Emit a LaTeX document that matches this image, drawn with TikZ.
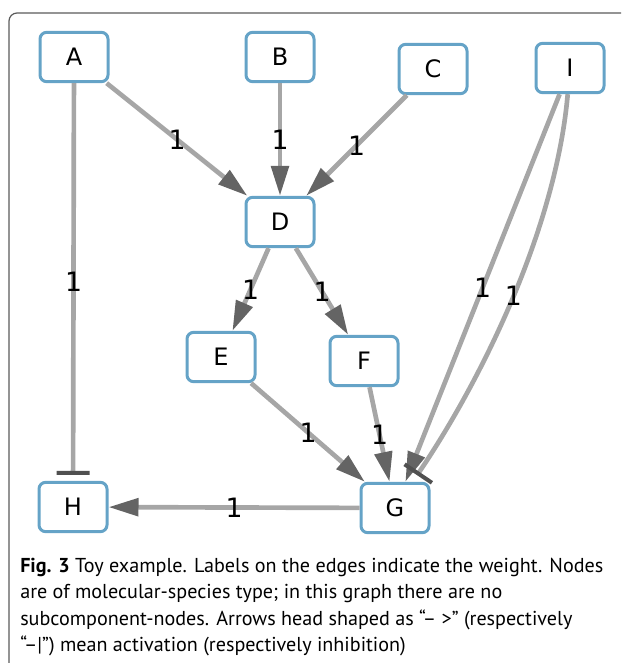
\documentclass[tikz,border=0pt]{standalone}
\usepackage{fontspec}
\setmainfont{DejaVu Sans}
\newfontfamily\capfont{PT Sans}
\usetikzlibrary{arrows.meta}
\definecolor{nodeblue}{RGB}{101,163,199}
\definecolor{edgegray}{RGB}{166,166,166}
\definecolor{tipgray}{RGB}{100,100,100}
\definecolor{bargray}{RGB}{80,80,80}
\definecolor{framegray}{RGB}{90,90,90}

\begin{document}
\begin{tikzpicture}[x=0.75pt,y=-0.75pt,
  species/.style={draw=nodeblue, line width=2.25pt, rounded corners=5pt, fill=white,
    minimum width=51pt, minimum height=37pt, inner sep=0pt,
    font=\fontsize{18}{20}\selectfont},
  edge/.style={draw=edgegray, line width=3.5pt},
  act/.style={edge, -{Triangle[length=22.5pt,width=13pt,color=tipgray]}},
  inh/.style={edge, shorten >=4.5pt, -{Bar[width=24.75pt,line width=3pt,color=bargray]}},
  weight/.style={font=\fontsize{20}{22}\selectfont, inner sep=0pt},
  capline/.style={anchor=base west, inner sep=0pt, font=\capfont\fontsize{15.1}{18}\selectfont}
]
\useasboundingbox (0,0) rectangle (621,663);
\clip (0,0) rectangle (621,663);

% figure frame (open to the right and bottom)
\draw[framegray, line width=0.9pt, rounded corners=6pt] (9,700) -- (9,13) -- (700,13);

% species nodes
\node[species] (A) at (74,57) {A};
\node[species] (B) at (280,57) {B};
\node[species] (C) at (433,69) {C};
\node[species] (I) at (570,68) {I};
\node[species] (D) at (280,222) {D};
\node[species] (E) at (221,357) {E};
\node[species] (F) at (364,361) {F};
\node[species] (H) at (73,507) {H};
\node[species] (G) at (395,508) {G};

% activations
\draw[act] (A) -- node[weight] {1} (D);
\draw[act] (B) -- node[weight] {1} (D);
\draw[act] (C) -- node[weight] {1} (D);
\draw[act] (D) -- node[weight] {1} (E);
\draw[act] (D) -- node[weight] {1} (F);
\draw[act] (E) -- node[weight] {1} (G);
\draw[act] (F) -- node[weight] {1} (G);
\draw[act] (I) -- node[weight] {1} (G);
\draw[act] (G) -- node[weight] {1} (H);

% inhibitions
\draw[inh] (A) -- node[weight] {1} (H);
\draw[inh, shorten >=6pt] (I) to[out=-95, in=56, looseness=0.8] node[weight] {1} (G);

% caption
\node[capline] at (20,572) {\textbf{Fig. 3} Toy example. Labels on the edges indicate the weight. Nodes};
\node[capline] at (20,598) {are of molecular-species type; in this graph there are no};
\node[capline] at (20,625) {subcomponent-nodes. Arrows head shaped as “– >” (respectively};
\node[capline] at (20,651) {“–|”) mean activation (respectively inhibition)};
\end{tikzpicture}
\end{document}
